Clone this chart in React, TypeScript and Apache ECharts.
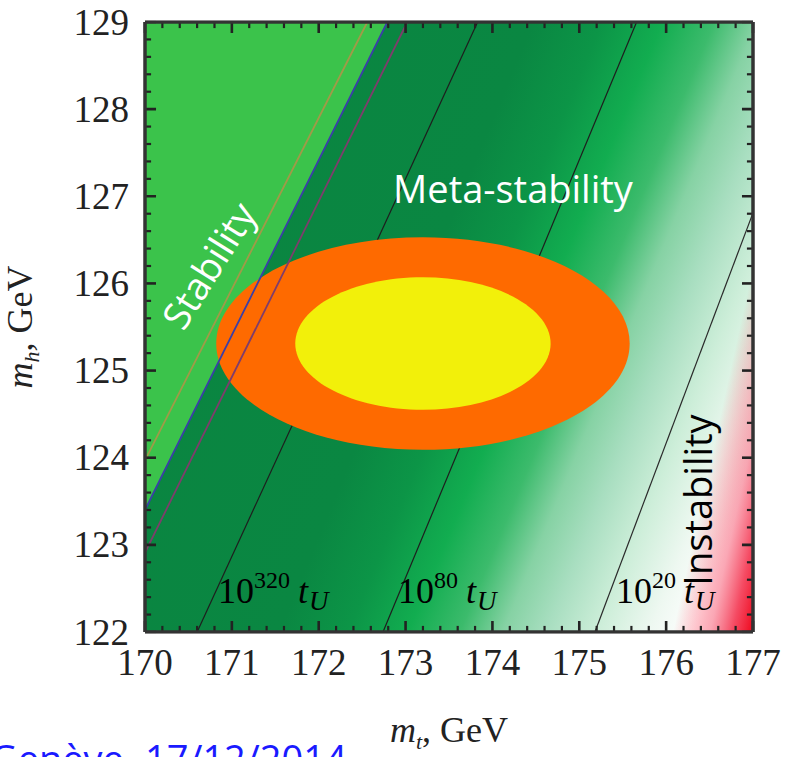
import React, { useEffect, useRef } from "react";
import * as echarts from "echarts";

// ---- data (GeV) ----
const X_RANGE = [170, 177];
const Y_RANGE = [122, 129];
const X_TICK_STEP = 1;
const Y_TICK_STEP = 1;
const X_TICKS = [170, 171, 172, 173, 174, 175, 176, 177];
const Y_TICKS = [122, 123, 124, 125, 126, 127, 128, 129];
const MINOR_PER_MAJOR = 5;

// stability region (left of the blue boundary)
const stabilityRegion = [
  [170, 129],
  [172.79, 129],
  [170, 123.4],
];
const oliveLine = [
  [172.56, 129],
  [170, 123.97],
];
const blueLine = [
  [172.79, 129],
  [170, 123.4],
];
const purpleLine = [
  [173.02, 129],
  [170, 122.91],
];
const contour320 = [
  [170.6, 122],
  [173.83, 129],
];
const contour80 = [
  [172.74, 122],
  [175.66, 129],
];
const contour20 = [
  [175.18, 122],
  [177, 126.81],
];
// [center mt, center mh, half width mt, half height mh]
const ellipse2sigma = [173.2, 125.31, 2.38, 1.22];
const ellipse1sigma = [173.2, 125.31, 1.47, 0.76];

const SERIF = "Liberation Serif";
const SANS = "Open Sans";

// tick lengths expressed in axis units (about 11 px and 6 px)
const MAJOR_LEN = 0.127;
const MINOR_LEN = 0.07;

function tickValues(ticks: number[], step: number, major: boolean): number[] {
  const out: number[] = [];
  ticks.forEach((v, i) => {
    if (major) out.push(v);
    else if (i < ticks.length - 1)
      for (let k = 1; k < MINOR_PER_MAJOR; k++) out.push(v + (k * step) / MINOR_PER_MAJOR);
  });
  return out;
}

// one small two-point segment per tick, on all four sides
function tickSegments(major: boolean): number[][][] {
  const len = major ? MAJOR_LEN : MINOR_LEN;
  const segs: number[][][] = [];
  tickValues(X_TICKS, X_TICK_STEP, major).forEach((x) => {
    segs.push([[x, Y_RANGE[0]], [x, Y_RANGE[0] + len]]);
    segs.push([[x, Y_RANGE[1]], [x, Y_RANGE[1] - len]]);
  });
  tickValues(Y_TICKS, Y_TICK_STEP, major).forEach((y) => {
    segs.push([[X_RANGE[0], y], [X_RANGE[0] + len, y]]);
    segs.push([[X_RANGE[1], y], [X_RANGE[1] - len, y]]);
  });
  return segs;
}

export default function App() {
  const ref = useRef<HTMLDivElement>(null);

  useEffect(() => {
    if (!ref.current) return;
    const chart = echarts.init(ref.current, undefined, { renderer: "svg" });

    const greenStops = [
      { offset: 0, color: "#0a8440" },
      { offset: 0.45, color: "#0a8742" },
      { offset: 0.53, color: "#0c9547" },
      { offset: 0.6, color: "#12ad50" },
      { offset: 0.66, color: "#3cbb6c" },
      { offset: 0.71, color: "#86d2a4" },
      { offset: 0.76, color: "#a8dec0" },
      { offset: 0.82, color: "#cdeed9" },
      { offset: 0.88, color: "#eef8f1" },
      { offset: 0.93, color: "#ffffff" },
      { offset: 1, color: "#ffffff" },
    ];
    const redStops = [
      { offset: 0, color: "rgba(255,0,30,0)" },
      { offset: 0.89, color: "rgba(255,0,30,0)" },
      { offset: 0.94, color: "rgba(245,60,90,0.45)" },
      { offset: 0.97, color: "rgba(242,30,60,0.8)" },
      { offset: 1, color: "rgba(238,0,20,1)" },
    ];

    const axisColor = "#222222";
    const common = {
      axisLine: { show: false, onZero: false },
      axisTick: { show: false },
      minorTick: { show: false },
      splitLine: { show: false },
      minorSplitLine: { show: false },
    };
    const baseX = { type: "value", min: X_RANGE[0], max: X_RANGE[1], interval: X_TICK_STEP, ...common };
    const baseY = { type: "value", min: Y_RANGE[0], max: Y_RANGE[1], interval: Y_TICK_STEP, ...common };

    const titleRich = {
      i: { fontFamily: SERIF, fontStyle: "italic", fontSize: 36, color: "#222", lineHeight: 44 },
      s: { fontFamily: SERIF, fontStyle: "italic", fontSize: 22, color: "#222", verticalAlign: "bottom" },
      n: { fontFamily: SERIF, fontSize: 36, color: "#222", lineHeight: 44 },
    };

    const lineSeries = (name: string, data: any[], color: string, width: number, z: number) => ({
      name,
      type: "line",
      data,
      symbol: "none",
      silent: true,
      z,
      lineStyle: { color, width },
    });

    const ellipseSeries = (name: string, e: number[], color: string) => ({
      name,
      type: "custom",
      z: 4,
      silent: true,
      data: [e],
      encode: { x: 0, y: 1 },
      renderItem: (_p: any, api: any) => {
        const c = api.coord([api.value(0), api.value(1)]);
        const s = api.size([api.value(2), api.value(3)]);
        return {
          type: "ellipse",
          shape: { cx: c[0], cy: c[1], rx: s[0], ry: s[1] },
          style: { fill: color },
        };
      },
    });

    const frameSides = [
      [[X_RANGE[0], Y_RANGE[0]], [X_RANGE[1], Y_RANGE[0]]],
      [[X_RANGE[1], Y_RANGE[0]], [X_RANGE[1], Y_RANGE[1]]],
      [[X_RANGE[1], Y_RANGE[1]], [X_RANGE[0], Y_RANGE[1]]],
      [[X_RANGE[0], Y_RANGE[1]], [X_RANGE[0], Y_RANGE[0]]],
    ];

    const tickSeries: any[] = [];
    tickSegments(true).forEach((s, i) => tickSeries.push(lineSeries(`major tick ${i}`, s, axisColor, 2.6, 6)));
    tickSegments(false).forEach((s, i) => tickSeries.push(lineSeries(`minor tick ${i}`, s, axisColor, 2.2, 6)));
    frameSides.forEach((s, i) => tickSeries.push(lineSeries(`frame ${i}`, s, "#333333", 3.5, 6)));

    const contourRich = {
      n: { fontFamily: SERIF, fontSize: 36, color: "#1e1e1e", lineHeight: 46 },
      p: { fontFamily: SERIF, fontSize: 24, color: "#1e1e1e", verticalAlign: "top" },
      t: { fontFamily: SERIF, fontStyle: "italic", fontSize: 36, color: "#1e1e1e", lineHeight: 46, padding: [0, 0, 0, 8] },
      u: { fontFamily: SERIF, fontStyle: "italic", fontSize: 27, color: "#1e1e1e", verticalAlign: "bottom", padding: [0, 0, 0, 1] },
    };
    const contourLabel = (x: number, exp: string) => ({
      type: "text",
      x,
      y: 591,
      z: 20,
      style: {
        text: `{n|10}{p|${exp}}{t|t}{u|U}`,
        rich: contourRich,
        verticalAlign: "middle",
        align: "left",
      },
    });

    chart.setOption({
      animation: false,
      backgroundColor: "#ffffff",
      grid: { left: 145, top: 22, width: 608, height: 610, containLabel: false, outerBoundsMode: "none" },
      xAxis: [
        {
          ...baseX,
          position: "bottom",
          axisLabel: { fontFamily: SERIF, fontSize: 37, color: "#222", margin: 12 },
          name: "{i|m}{s|t}{n|, GeV}",
          nameLocation: "middle",
          nameGap: 76,
          nameTextStyle: { rich: titleRich },
        },
      ],
      yAxis: [
        {
          ...baseY,
          position: "left",
          axisLabel: { fontFamily: SERIF, fontSize: 37, color: "#222", margin: 16 },
          name: "{i|m}{s|h}{n|, GeV}",
          nameLocation: "middle",
          nameGap: 103,
          nameTextStyle: { rich: titleRich },
        },
      ],
      series: [
        {
          name: "background",
          type: "custom",
          z: 1,
          silent: true,
          clip: true,
          data: [[X_RANGE[0], Y_RANGE[0]]],
          renderItem: (_p: any, api: any) => {
            const p0 = api.coord([X_RANGE[0], Y_RANGE[1]]);
            const p1 = api.coord([X_RANGE[1], Y_RANGE[0]]);
            const shape = { x: p0[0], y: p0[1], width: p1[0] - p0[0], height: p1[1] - p0[1] };
            return {
              type: "group",
              children: [
                { type: "rect", shape, style: { fill: new echarts.graphic.LinearGradient(0, 0, 1.207, 0.505, greenStops) } },
                { type: "rect", shape, style: { fill: new echarts.graphic.LinearGradient(0, 0, 1.166, 0.256, redStops) } },
              ],
            };
          },
        },
        {
          name: "Stability",
          type: "custom",
          z: 2,
          silent: true,
          data: [[X_RANGE[0], Y_RANGE[0]]],
          renderItem: (_p: any, api: any) => ({
            type: "polygon",
            shape: { points: stabilityRegion.map((p) => api.coord(p)) },
            style: { fill: "#3bc34b" },
          }),
        },
        lineSeries("1e320 tU", contour320, "#1e1e1e", 1.2, 3),
        lineSeries("1e80 tU", contour80, "#1e1e1e", 1.2, 3),
        lineSeries("1e20 tU", contour20, "#2a2a2a", 1.2, 3),
        ellipseSeries("2 sigma", ellipse2sigma, "#fe6a00"),
        ellipseSeries("1 sigma", ellipse1sigma, "#f2f00a"),
        lineSeries("olive", oliveLine, "#a09a48", 1.8, 5),
        lineSeries("blue", blueLine, "#3a3fa8", 1.8, 5),
        lineSeries("purple", purpleLine, "#7e3d6c", 1.8, 5),
        ...tickSeries,
      ],
      graphic: [
        contourLabel(218, "320"),
        contourLabel(398, "80"),
        contourLabel(616, "20"),
        {
          type: "text",
          x: 513,
          y: 188,
          z: 20,
          style: { text: "Meta-stability", fontFamily: SANS, fontSize: 38, fill: "#ffffff", align: "center", verticalAlign: "middle" },
        },
        {
          type: "text",
          x: 208,
          y: 265,
          z: 20,
          rotation: (58 * Math.PI) / 180,
          style: { text: "Stability", fontFamily: SANS, fontSize: 38, fill: "#ffffff", align: "center", verticalAlign: "middle" },
        },
        {
          type: "text",
          x: 697,
          y: 500,
          z: 21,
          rotation: Math.PI / 2,
          style: { text: "Instability", fontFamily: SANS, fontSize: 38, fill: "#000000", align: "center", verticalAlign: "middle" },
        },
        {
          type: "text",
          x: -10,
          y: 739,
          z: 20,
          style: { text: "Genève", fontFamily: SANS, fontSize: 38, fill: "#1a1aff", align: "left", verticalAlign: "top" },
        },
        {
          type: "text",
          x: 145,
          y: 739,
          z: 20,
          style: { text: "17/12/2014", fontFamily: SANS, fontSize: 38, fill: "#1a1aff", align: "left", verticalAlign: "top" },
        },
      ],
    });

    return () => chart.dispose();
  }, []);

  return (
    <div
      ref={ref}
      style={{ position: "fixed", left: 0, top: 0, width: 787, height: 757, background: "#fff" }}
    />
  );
}
